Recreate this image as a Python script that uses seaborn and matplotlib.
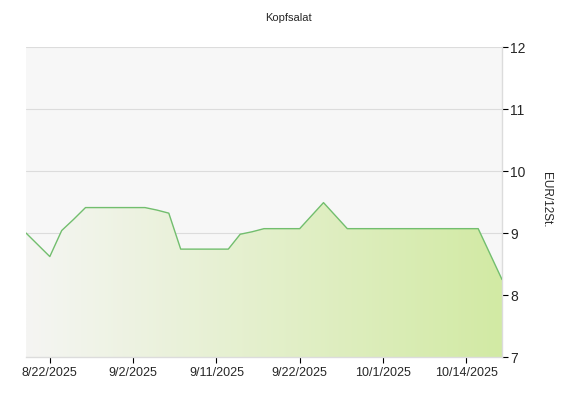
import numpy as np
import pandas as pd
import matplotlib
matplotlib.use("Agg")
import matplotlib.pyplot as plt
import seaborn as sns
from matplotlib.colors import LinearSegmentedColormap

dates = ["8/20/2025", "8/21/2025", "8/22/2025", "8/25/2025", "8/26/2025", "8/27/2025",
         "8/28/2025", "8/29/2025", "9/1/2025", "9/2/2025", "9/3/2025", "9/4/2025",
         "9/5/2025", "9/8/2025", "9/9/2025", "9/10/2025", "9/11/2025", "9/12/2025",
         "9/15/2025", "9/16/2025", "9/17/2025", "9/18/2025", "9/19/2025", "9/22/2025",
         "9/23/2025", "9/24/2025", "9/25/2025", "9/26/2025", "9/29/2025", "9/30/2025",
         "10/1/2025", "10/2/2025", "10/6/2025", "10/7/2025", "10/8/2025", "10/9/2025",
         "10/13/2025", "10/14/2025", "10/15/2025", "10/16/2025", "10/17/2025"]
prices = [9.00, 8.81, 8.62, 9.04, 9.22, 9.41, 9.41, 9.41, 9.41, 9.41, 9.41, 9.37,
          9.32, 8.74, 8.74, 8.74, 8.74, 8.74, 8.98, 9.02, 9.07, 9.07, 9.07, 9.07,
          9.28, 9.49, 9.28, 9.07, 9.07, 9.07, 9.07, 9.07, 9.07, 9.07, 9.07, 9.07,
          9.07, 9.07, 9.07, 8.66, 8.25]
tick_labels = ["8/22/2025", "9/2/2025", "9/11/2025", "9/22/2025", "10/1/2025", "10/14/2025"]
title = "Kopfsalat"
unit = "EUR/12St."

df = pd.DataFrame({"idx": np.arange(len(dates)), "date": dates, "price": prices})

sns.set_style("white")
plt.rcParams['font.family'] = ['Liberation Sans', 'DejaVu Sans']

fig = plt.figure(figsize=(5.76, 4.0), dpi=100)
ax = fig.add_axes([26/576, 43/400, 476/576, 310/400])
ax.set_facecolor("#F7F7F7")

ymin, ymax = 7, 12
xmin, xmax = 0, len(dates) - 1

# gradient fill under line
cmap = LinearSegmentedColormap.from_list("g", ["#F5F5F3", "#D2EAA4"])
grad = np.linspace(0, 1, 256).reshape(1, -1)
im = ax.imshow(grad, extent=[xmin, xmax, ymin, ymax], aspect="auto", cmap=cmap,
               origin="lower", zorder=2)
poly = ax.fill_between(df["idx"], df["price"], ymin, color="none", zorder=1)
clip = poly.get_paths()[0]
im.set_clip_path(clip, transform=ax.transData)

sns.lineplot(data=df, x="idx", y="price", ax=ax, color="#72BE6E", linewidth=1.0, zorder=3)

ax.set_xlim(xmin, xmax)
ax.set_ylim(ymin, ymax)

for y in range(8, 13):
    ax.axhline(y, color="#DCDCDC", linewidth=0.8, zorder=0.5)

tick_pos = [dates.index(d) for d in tick_labels]
ax.set_xticks(tick_pos)
ax.set_xticklabels(tick_labels)
ax.yaxis.tick_right()
ax.set_yticks(range(7, 13))
ax.tick_params(axis="both", which="both", length=4, width=0.8, color="black",
               labelsize=9, direction="out", pad=2)
ax.tick_params(axis="x", bottom=True, pad=3)
ax.tick_params(axis="y", right=True, left=False, labelsize=10)

for s in ["top", "left"]:
    ax.spines[s].set_visible(False)
for s in ["right", "bottom"]:
    ax.spines[s].set_visible(True)
    ax.spines[s].set_color("#DCDCDC")
    ax.spines[s].set_linewidth(1.0)

ax.set_xlabel("")
ax.set_ylabel("")

fig.text(546/576, 1 - 200/400, unit, rotation=270, ha="center", va="center", fontsize=8.5)
fig.text(288/576, 1 - 18/400, title, ha="center", va="center", fontsize=8)

fig.savefig("out.png", dpi=100)
